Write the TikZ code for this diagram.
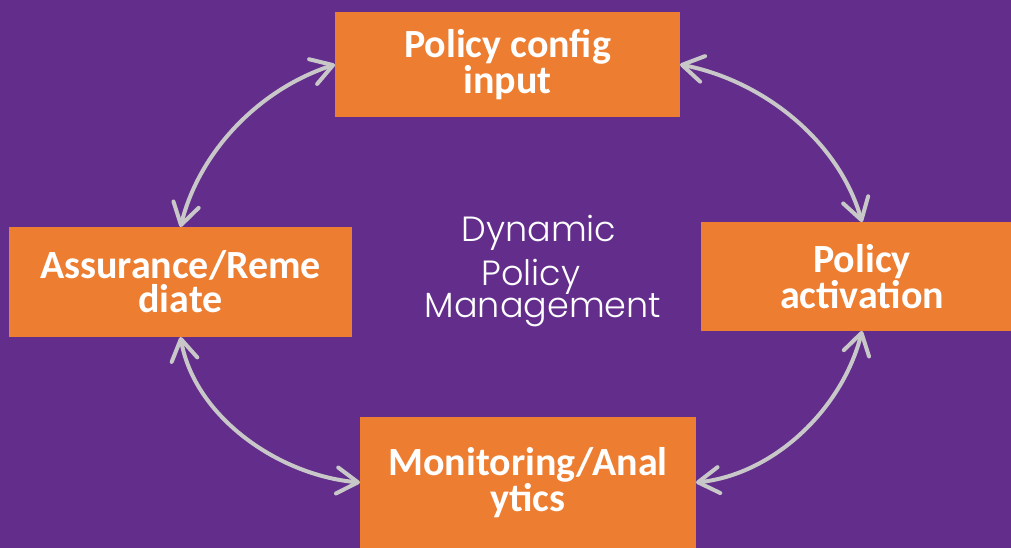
\documentclass[tikz,border=0pt]{standalone}
\usepackage{fontspec}
\setmainfont{Carlito}
\newfontfamily\popfont{Poppins Light}
\usetikzlibrary{arrows.meta}
\definecolor{bgpurple}{HTML}{632D8C}
\definecolor{boxorange}{HTML}{ED7D31}
\definecolor{arrowgray}{HTML}{C8C8C8}

\begin{document}
\begin{tikzpicture}[x=1pt, y=1pt,
      every node/.append style={inner sep=0pt, outer sep=0pt},
      biarrow/.style={draw=arrowgray, line width=4pt, line cap=round, looseness=0.9,
        {Straight Barb[length=21pt,width=26pt,round]}-{Straight Barb[length=21pt,width=26pt,round]}}]
    \tikzstyle{stage} = [fill=boxorange, text=white, align=center,
      font=\bfseries\fontsize{40}{34}\selectfont]
    \tikzstyle{title} = [text=white, anchor=base, font=\popfont\fontsize{35}{35}\selectfont]
    \useasboundingbox (0,0) rectangle (1011,548);
    \fill[bgpurple] (0,0) rectangle (1011,548);
    % the four stages
    \node (config) [stage, minimum width=345pt, minimum height=105pt] at (507.5,483.5) {Policy config\\input};
    \node (assur) [stage, minimum width=343pt, minimum height=110pt] at (180.5,266) {Assurance/Reme\\diate};
    \node (activ) [stage, minimum width=322pt, minimum height=109pt] at (862,271.5) {Policy\\activation};
    \node (monit) [stage, minimum width=336pt, minimum height=131pt] at (528,65.5) {Monitoring/Anal\\ytics};
    % centre text
    \node (dyn) [title] at (539,306) {Dynamic};
    \node (pol) [title] at (531,262) {Policy};
    \node (mgmt) [title] at (543,230) {Management};
    % the cycle
    \draw[biarrow] (config.west) to[out=198, in=76] (assur.north);
    \draw[biarrow] (config.east) to[out=-11, in=106] (activ.north);
    \draw[biarrow] (assur.south) to[out=-80, in=175] (monit.west);
    \draw[biarrow] (activ.south) to[out=256, in=6] (monit.east);
\end{tikzpicture}
\end{document}
